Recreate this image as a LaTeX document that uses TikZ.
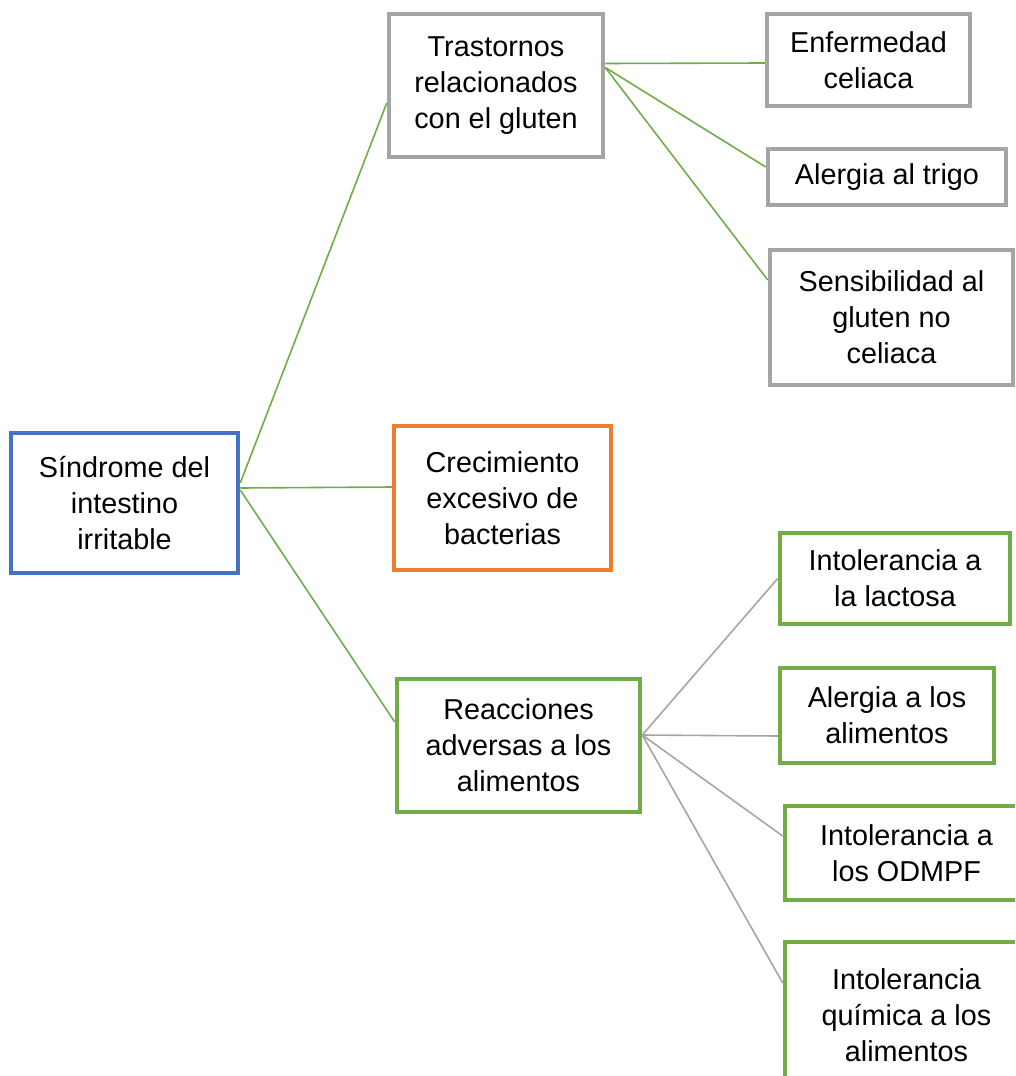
\documentclass[tikz,border=0pt]{standalone}
\usepackage{fontspec}
\setmainfont{Liberation Sans}
\definecolor{azul}{HTML}{4472C4}
\definecolor{naranja}{HTML}{ED7D31}
\definecolor{gris}{HTML}{A5A5A5}
\definecolor{verde}{HTML}{70AD47}
\begin{document}
\begin{tikzpicture}[x=1pt,y=-1pt,
  box/.style={draw,line width=4.5pt,fill=white,align=center,inner sep=0pt,
    font=\fontsize{28.8}{36}\selectfont},
  link/.style={line width=1.6pt}]
\path[use as bounding box,clip] (0,0) rectangle (1015,1076);

\node[box,draw=azul,minimum width=227pt,minimum height=140pt] (sii) at (124.5,503) {Síndrome del\\intestino\\irritable};
\node[box,draw=gris,minimum width=214pt,minimum height=143pt] (trast) at (496,85.5) {Trastornos\\relacionados\\con el gluten};
\node[box,draw=naranja,minimum width=217pt,minimum height=144pt] (crec) at (502.5,498) {Crecimiento\\excesivo de\\bacterias};
\node[box,draw=verde,minimum width=243pt,minimum height=133pt] (reac) at (518.5,745.5) {Reacciones\\adversas a los\\alimentos};

\node[box,draw=gris,minimum width=203pt,minimum height=92pt] (celiaca) at (868.5,60) {Enfermedad\\celiaca};
\node[box,draw=gris,minimum width=238pt,minimum height=56pt] (trigo) at (887,177) {Alergia al trigo};
\node[box,draw=gris,minimum width=243pt,minimum height=135pt] (sens) at (891.5,317.5) {Sensibilidad al\\gluten no\\celiaca};

\node[box,draw=verde,minimum width=230pt,minimum height=91pt] (lactosa) at (895,578.5) {Intolerancia a\\la lactosa};
\node[box,draw=verde,minimum width=214pt,minimum height=95pt] (alergia) at (887,715.5) {Alergia a los\\alimentos};
\node[box,draw=verde,minimum width=243pt,minimum height=94pt] (odmpf) at (906.5,853) {Intolerancia a\\los ODMPF};
\node[box,draw=verde,minimum width=243pt,minimum height=146pt] (quimica) at (906.5,1015) {Intolerancia\\química a los\\alimentos};

\draw[link,verde] ([yshift=20pt]sii.east) -- ([yshift=-17.5pt]trast.west);
\draw[link,verde] ([yshift=15pt]sii.east) -- ([yshift=11pt]crec.west);
\draw[link,verde] ([yshift=13pt]sii.east) -- ([yshift=23.5pt]reac.west);

\draw[link,verde] ([yshift=22pt]trast.east) -- ([yshift=-3pt]celiaca.west);
\draw[link,verde] ([yshift=18pt]trast.east) -- ([yshift=10pt]trigo.west);
\draw[link,verde] ([yshift=18pt]trast.east) -- ([yshift=37.5pt]sens.west);

\draw[link,gris] ([yshift=10.5pt]reac.east) -- (lactosa.west);
\draw[link,gris] ([yshift=10.5pt]reac.east) -- ([yshift=-20.5pt]alergia.west);
\draw[link,gris] ([yshift=10.5pt]reac.east) -- ([yshift=17pt]odmpf.west);
\draw[link,gris] ([yshift=10.5pt]reac.east) -- ([yshift=32pt]quimica.west);
\end{tikzpicture}
\end{document}
